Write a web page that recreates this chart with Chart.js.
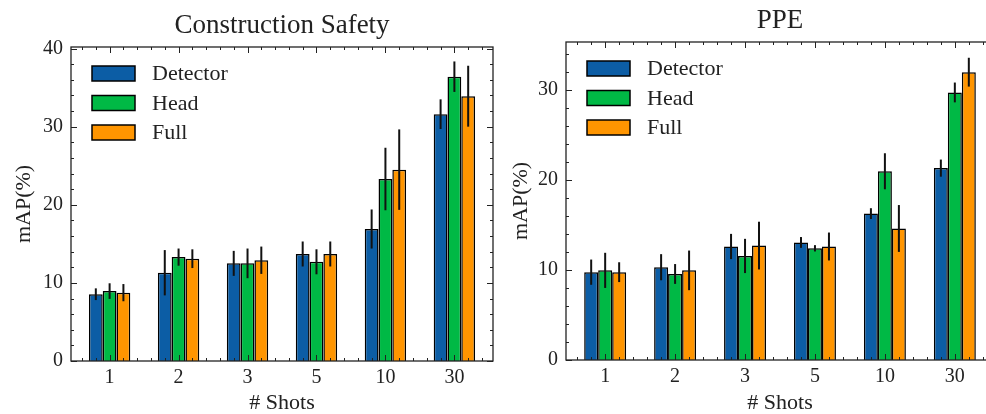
<!DOCTYPE html>
<html>
<head>
<meta charset="utf-8">
<script src="https://cdn.jsdelivr.net/npm/chart.js@4.4.1/dist/chart.umd.min.js"></script>
<style>
  html, body { margin: 0; padding: 0; background: #fff; overflow: hidden; width: 986px; height: 414px; position: relative; }
  canvas { position: absolute; top: 0; }
  #c1 { left: 0; }
  #c2 { left: 490px; }
</style>
</head>
<body>
<canvas id="c1" width="500" height="414"></canvas>
<canvas id="c2" width="520" height="414"></canvas>
<script>
const shots = ["1", "2", "3", "5", "10", "30"];
const seriesNames = ["Detector", "Head", "Full"];
const seriesColors = ["#0C5DA5", "#00B945", "#FF9500"];

// Construction Safety (mean, +/- error)
const csDetector = [8.55, 11.3, 12.5, 13.7, 16.9, 31.6];
const csHead = [8.95, 13.3, 12.5, 12.7, 23.3, 36.4];
const csFull = [8.75, 13.1, 12.9, 13.7, 24.5, 33.9];
const csDetectorErr = [0.75, 2.9, 1.6, 1.6, 2.5, 1.9];
const csHeadErr = [1.0, 1.1, 1.9, 1.6, 4.0, 1.95];
const csFullErr = [1.1, 1.2, 1.75, 1.6, 5.15, 3.9];
const csYTicks = [0, 10, 20, 30, 40];

// PPE (mean, +/- error)
const ppeDetector = [9.75, 10.3, 12.6, 13.05, 16.25, 21.3];
const ppeHead = [9.95, 9.55, 11.55, 12.4, 20.95, 29.7];
const ppeFull = [9.75, 9.95, 12.7, 12.6, 14.6, 31.95];
const ppeDetectorErr = [1.4, 1.45, 1.4, 0.6, 0.6, 0.95];
const ppeHeadErr = [1.95, 1.1, 1.9, 0.35, 2.0, 1.1];
const ppeFullErr = [1.1, 2.2, 2.65, 1.55, 2.6, 1.6];
const ppeYTicks = [0, 10, 20, 30];

const FONT = "'Liberation Serif', 'Times New Roman', serif";
const INK = "#222";

// error bars, inward ticks on all four sides, frame, legend and title
const sciencePlugin = {
  id: "science",
  afterDatasetsDraw(chart, args, opts) {
    const ctx = chart.ctx;
    const a = chart.chartArea;
    const xs = chart.scales.x, ys = chart.scales.y;

    ctx.save();
    ctx.strokeStyle = "#111";
    ctx.lineWidth = 2;
    chart.data.datasets.forEach((ds, i) => {
      chart.getDatasetMeta(i).data.forEach((bar, j) => {
        const v = ds.data[j].y, e = ds.err[j];
        ctx.beginPath();
        ctx.moveTo(bar.x, ys.getPixelForValue(v - e));
        ctx.lineTo(bar.x, ys.getPixelForValue(v + e));
        ctx.stroke();
      });
    });

    ctx.strokeStyle = INK;
    ctx.lineWidth = 1.3;
    ctx.strokeRect(a.left, a.top, a.right - a.left, a.bottom - a.top);

    ctx.lineWidth = 1;
    const tick = (x1, y1, x2, y2) => { ctx.beginPath(); ctx.moveTo(x1, y1); ctx.lineTo(x2, y2); ctx.stroke(); };
    for (let k = -5; k <= 30; k++) {
      const v = k / 5;
      if (v < xs.min || v > xs.max) continue;
      const px = Math.round(xs.getPixelForValue(v)) + 0.5;
      const len = k % 5 === 0 ? 6 : 3;
      tick(px, a.bottom, px, a.bottom - len);
      tick(px, a.top, px, a.top + len);
    }
    for (let v = 0; v <= ys.max; v += 2) {
      const py = Math.round(ys.getPixelForValue(v)) + 0.5;
      const len = v % 10 === 0 ? 6 : 3;
      tick(a.left, py, a.left + len, py);
      tick(a.right, py, a.right - len, py);
    }

    ctx.font = "22px " + FONT;
    ctx.textBaseline = "middle";
    ctx.textAlign = "left";
    chart.data.datasets.forEach((ds, i) => {
      const cy = a.top + 26.5 + i * 29.5;
      ctx.fillStyle = ds.backgroundColor;
      ctx.fillRect(a.left + 21, cy - 7.5, 43, 15);
      ctx.strokeStyle = "#000";
      ctx.lineWidth = 1.5;
      ctx.strokeRect(a.left + 21, cy - 7.5, 43, 15);
      ctx.fillStyle = INK;
      ctx.fillText(ds.label, a.left + 81, cy + 1);
    });

    ctx.font = "27px " + FONT;
    ctx.textAlign = "center";
    ctx.textBaseline = "alphabetic";
    ctx.fillText(opts.title, (a.left + a.right) / 2, a.top - 14);
    ctx.restore();
  }
};

function makeChart(id, title, values, errs, yMax, yTicks, box) {
  return new Chart(document.getElementById(id), {
    type: "bar",
    data: {
      datasets: seriesNames.map((name, i) => ({
        label: name,
        data: values[i].map((v, j) => ({ x: j, y: v })),
        err: errs[i],
        backgroundColor: seriesColors[i],
        borderColor: "#000",
        borderWidth: 1.5,
        categoryPercentage: 0.6,
        barPercentage: 1.0
      }))
    },
    options: {
      responsive: false,
      animation: false,
      devicePixelRatio: 1,
      layout: { padding: { top: box.top, left: 0, right: box.right, bottom: 0 } },
      plugins: { legend: { display: false }, tooltip: { enabled: false }, science: { title } },
      scales: {
        x: {
          type: "linear", min: -0.56, max: 5.56, bounds: "data", offset: false,
          afterBuildTicks: s => { s.ticks = shots.map((_, i) => ({ value: i })); },
          afterFit: s => { s.height = box.xh; },
          ticks: { callback: v => shots[v], font: { family: FONT, size: 20 }, color: INK, padding: 5, maxRotation: 0, autoSkip: false },
          grid: { display: false, drawTicks: false },
          border: { display: false },
          title: { display: true, text: "# Shots", color: INK, font: { family: FONT, size: 22, lineHeight: 1 }, padding: { top: 0, bottom: 0 } }
        },
        y: {
          type: "linear", min: 0, max: yMax, bounds: "data",
          afterBuildTicks: s => { s.ticks = yTicks.map(v => ({ value: v })); },
          afterFit: s => { s.width = box.yw; },
          ticks: { font: { family: FONT, size: 20 }, color: INK, padding: 8 },
          grid: { display: false, drawTicks: false },
          border: { display: false },
          title: { display: true, text: "mAP(%)", color: INK, font: { family: FONT, size: 22, lineHeight: 1 }, padding: { top: box.titleX, bottom: 0 } }
        }
      }
    },
    plugins: [sciencePlugin]
  });
}

makeChart("c1", "Construction Safety",
  [csDetector, csHead, csFull], [csDetectorErr, csHeadErr, csFullErr],
  40.2, csYTicks, { top: 47, right: 7, xh: 53, yw: 71, titleX: 13 });

makeChart("c2", "PPE",
  [ppeDetector, ppeHead, ppeFull], [ppeDetectorErr, ppeHeadErr, ppeFullErr],
  35.3, ppeYTicks, { top: 42, right: 16, xh: 54, yw: 76, titleX: 20 });
</script>
</body>
</html>
